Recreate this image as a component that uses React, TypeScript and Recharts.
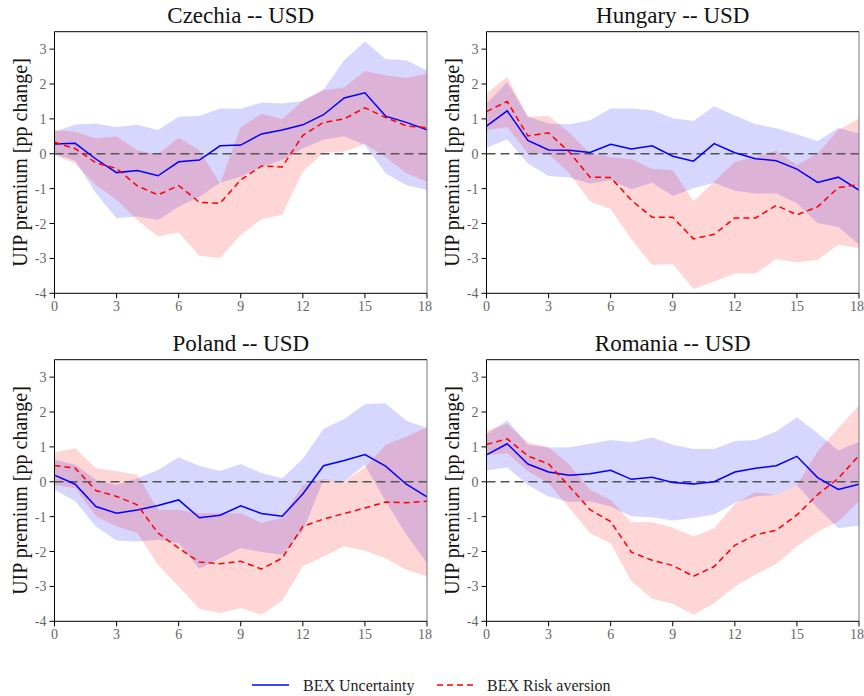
import { ComposedChart, Area, Line, XAxis, YAxis, ReferenceLine } from "recharts";

const horizons = [0, 1, 2, 3, 4, 5, 6, 7, 8, 9, 10, 11, 12, 13, 14, 15, 16, 17, 18];
const xTicks = [0, 3, 6, 9, 12, 15, 18];
const yTicks = [-4, -3, -2, -1, 0, 1, 2, 3];

// Czechia
const czUnc = [0.28, 0.3, -0.15, -0.54, -0.48, -0.63, -0.23, -0.18, 0.23, 0.25, 0.57, 0.68, 0.83, 1.12, 1.6, 1.75, 1.08, 0.9, 0.69];
const czUncLo = [0.0, -0.2, -1.13, -1.85, -1.8, -1.9, -1.52, -1.23, -0.83, -0.66, -0.37, -0.18, 0.15, 0.41, 0.5, 0.25, -0.56, -0.9, -1.04];
const czUncHi = [0.63, 0.84, 0.87, 0.77, 0.83, 0.68, 1.06, 1.08, 1.3, 1.29, 1.47, 1.44, 1.51, 1.84, 2.68, 3.22, 2.72, 2.68, 2.39];
const czRisk = [0.33, 0.15, -0.26, -0.42, -0.92, -1.18, -0.91, -1.39, -1.42, -0.75, -0.35, -0.38, 0.53, 0.9, 1.0, 1.32, 1.04, 0.8, 0.75];
const czRiskLo = [-0.04, -0.28, -0.9, -1.32, -1.9, -2.37, -2.26, -2.92, -2.99, -2.33, -1.88, -1.75, -0.51, 0.03, 0.06, 0.28, -0.09, -0.56, -0.8];
const czRiskHi = [0.68, 0.63, 0.44, 0.5, 0.1, -0.01, 0.47, 0.1, -0.85, 0.77, 1.15, 1.0, 1.53, 1.82, 1.9, 2.37, 2.25, 2.17, 2.3];

// Hungary
const huUnc = [0.79, 1.23, 0.38, 0.11, 0.1, 0.04, 0.27, 0.14, 0.23, -0.07, -0.21, 0.29, 0.03, -0.14, -0.2, -0.44, -0.82, -0.67, -1.04];
const huUncLo = [0.17, 0.41, -0.28, -0.64, -0.68, -0.85, -0.75, -1.02, -0.83, -1.21, -0.99, -0.83, -1.06, -1.14, -1.14, -1.42, -1.99, -2.09, -2.61];
const huUncHi = [1.44, 2.06, 1.06, 0.87, 0.85, 0.96, 1.3, 1.3, 1.25, 1.02, 0.94, 1.36, 1.1, 0.85, 0.73, 0.56, 0.36, 0.74, 0.58];
const huRisk = [1.21, 1.5, 0.51, 0.6, 0.05, -0.67, -0.68, -1.33, -1.82, -1.82, -2.44, -2.31, -1.84, -1.84, -1.48, -1.75, -1.52, -0.97, -0.88];
const huRiskLo = [0.68, 0.77, 0.01, 0.0, -0.56, -1.37, -1.58, -2.45, -3.19, -3.16, -3.88, -3.66, -3.43, -3.43, -3.02, -3.12, -3.04, -2.61, -2.71];
const huRiskHi = [1.73, 2.2, 1.06, 1.09, 0.6, 0.01, -0.09, -0.16, -0.43, -0.47, -1.36, -0.8, -0.23, -0.09, 0.09, -0.32, 0.01, 0.68, 1.01];

// Poland
const plUnc = [0.19, -0.07, -0.71, -0.9, -0.81, -0.68, -0.52, -1.03, -0.96, -0.69, -0.91, -0.99, -0.35, 0.46, 0.61, 0.78, 0.45, -0.07, -0.43];
const plUncLo = [-0.23, -0.56, -1.28, -1.68, -1.71, -1.66, -1.76, -2.49, -2.19, -1.9, -2.01, -2.09, -1.42, 0.06, 0.01, 0.49, -0.56, -1.52, -2.33];
const plUncHi = [0.63, 0.49, 0.06, -0.09, 0.1, 0.34, 0.7, 0.46, 0.31, 0.51, 0.25, 0.1, 0.66, 1.52, 1.8, 2.22, 2.25, 1.75, 1.54];
const plRisk = [0.47, 0.39, -0.25, -0.42, -0.66, -1.47, -1.9, -2.3, -2.35, -2.28, -2.5, -2.19, -1.28, -1.07, -0.91, -0.75, -0.58, -0.6, -0.56];
const plRiskLo = [-0.09, -0.18, -0.99, -1.28, -1.47, -2.38, -3.0, -3.64, -3.76, -3.62, -3.81, -3.41, -2.42, -2.14, -1.85, -1.98, -2.19, -2.52, -2.71];
const plRiskHi = [0.85, 0.96, 0.39, 0.31, 0.2, -0.8, -0.8, -0.9, -0.9, -0.9, -1.18, -1.04, -0.09, 0.08, 0.01, 0.41, 1.06, 1.3, 1.56];

// Romania
const roUnc = [0.77, 1.09, 0.51, 0.28, 0.19, 0.23, 0.33, 0.07, 0.13, -0.02, -0.06, 0.0, 0.28, 0.39, 0.46, 0.73, 0.12, -0.22, -0.07];
const roUncLo = [0.32, 0.41, -0.09, -0.42, -0.58, -0.56, -0.71, -0.99, -1.02, -1.11, -1.04, -0.94, -0.61, -0.42, -0.37, -0.09, -0.75, -1.33, -1.25];
const roUncHi = [1.36, 1.76, 1.06, 0.98, 0.99, 1.09, 1.2, 1.13, 1.27, 1.06, 0.94, 0.94, 1.17, 1.2, 1.44, 1.85, 1.39, 0.9, 1.15];
const roRisk = [1.07, 1.23, 0.74, 0.51, -0.13, -0.8, -1.14, -2.02, -2.25, -2.4, -2.71, -2.43, -1.82, -1.52, -1.39, -0.95, -0.37, 0.1, 0.75];
const roRiskLo = [0.77, 0.82, 0.3, -0.04, -0.75, -1.47, -1.76, -2.85, -3.35, -3.5, -3.81, -3.48, -3.0, -2.66, -2.36, -1.85, -1.44, -1.14, -0.56];
const roRiskHi = [1.46, 1.66, 1.13, 0.99, 0.49, -0.23, -0.52, -1.16, -1.16, -1.31, -1.57, -1.33, -0.64, -0.3, -0.37, -0.09, 0.87, 1.54, 2.19];

const FONT = "'Liberation Serif', 'Times New Roman', serif";

type Panel = {
  title: string;
  unc: number[];
  uncLo: number[];
  uncHi: number[];
  risk: number[];
  riskLo: number[];
  riskHi: number[];
};

const panels: Panel[] = [
  { title: "Czechia -- USD", unc: czUnc, uncLo: czUncLo, uncHi: czUncHi, risk: czRisk, riskLo: czRiskLo, riskHi: czRiskHi },
  { title: "Hungary -- USD", unc: huUnc, uncLo: huUncLo, uncHi: huUncHi, risk: huRisk, riskLo: huRiskLo, riskHi: huRiskHi },
  { title: "Poland -- USD", unc: plUnc, uncLo: plUncLo, uncHi: plUncHi, risk: plRisk, riskLo: plRiskLo, riskHi: plRiskHi },
  { title: "Romania -- USD", unc: roUnc, uncLo: roUncLo, uncHi: roUncHi, risk: roRisk, riskLo: roRiskLo, riskHi: roRiskHi },
];

function YLabel(props: any) {
  const vb = props.viewBox || {};
  const cx = 20;
  const cy = vb.y + vb.height / 2;
  return (
    <text
      x={cx}
      y={cy}
      transform={`rotate(-90 ${cx} ${cy})`}
      textAnchor="middle"
      dominantBaseline="central"
      fontFamily={FONT}
      fontSize={20}
      fill="#111"
    >
      UIP premium [pp change]
    </text>
  );
}

// title sits on the top spine (a reference line at the domain max)
function TitleLabel(props: any) {
  const vb = props.viewBox || {};
  return (
    <text x={vb.x + vb.width / 2} y={vb.y - 9} textAnchor="middle" fontFamily={FONT} fontSize={23} fill="#111">
      {props.title}
    </text>
  );
}

function IrfPanel({ p }: { p: Panel }) {
  const data = horizons.map((h, i) => ({
    h,
    uncBand: [p.uncLo[i], p.uncHi[i]],
    riskBand: [p.riskLo[i], p.riskHi[i]],
    unc: p.unc[i],
    risk: p.risk[i],
  }));
  const tick = { fill: "#666", fontSize: 14, fontFamily: FONT };
  return (
    <ComposedChart
      width={432}
      height={328}
      data={data}
      margin={{ top: 31.7, right: 5, bottom: 4.7, left: 0 }}
      style={{ fontFamily: FONT }}
    >
      <XAxis
        dataKey="h"
        type="number"
        domain={[0, 18]}
        ticks={xTicks}
        tick={tick}
        tickSize={5}
        tickMargin={3}
        height={30}
        stroke="#000"
        allowDataOverflow
      />
      <YAxis
        type="number"
        domain={[-4, 3.5]}
        ticks={yTicks}
        tick={tick}
        tickSize={5}
        tickMargin={3}
        width={54.5}
        stroke="#000"
        allowDataOverflow
        label={<YLabel />}
      />
      <Area dataKey="uncBand" type="linear" stroke="none" fill="#0000ff" fillOpacity={0.16} isAnimationActive={false} />
      <Area dataKey="riskBand" type="linear" stroke="none" fill="#ff0000" fillOpacity={0.16} isAnimationActive={false} />
      <ReferenceLine y={0} stroke="#555" strokeWidth={1.5} strokeDasharray="9 5" />
      <Line dataKey="unc" type="linear" stroke="#0000ff" strokeWidth={1.5} dot={false} isAnimationActive={false} />
      <Line
        dataKey="risk"
        type="linear"
        stroke="#ff0000"
        strokeWidth={1.5}
        strokeDasharray="6 4"
        dot={false}
        isAnimationActive={false}
      />
      <ReferenceLine x={18} stroke="#777" strokeWidth={1} />
      <ReferenceLine y={3.5} stroke="#000" strokeWidth={1} label={<TitleLabel title={p.title} />} />
    </ComposedChart>
  );
}

export default function App() {
  const pos = [
    { left: 0, top: 0 },
    { left: 432, top: 0 },
    { left: 0, top: 328 },
    { left: 432, top: 328 },
  ];
  return (
    <div
      style={{
        position: "absolute",
        left: 0,
        top: 0,
        width: 864,
        height: 696,
        background: "#fff",
        overflow: "hidden",
        fontFamily: FONT,
      }}
    >
      {panels.map((p, i) => (
        <div key={p.title} style={{ position: "absolute", left: pos[i].left, top: pos[i].top, width: 432, height: 328 }}>
          <IrfPanel p={p} />
        </div>
      ))}
      <svg width={864} height={40} style={{ position: "absolute", left: 0, top: 660 }}>
        <line x1={252} x2={289} y1={25} y2={25} stroke="#0000ff" strokeWidth={1.5} />
        <text x={303} y={30.5} fontFamily={FONT} fontSize={16} fill="#222">
          BEX Uncertainty
        </text>
        <line x1={437} x2={475} y1={25} y2={25} stroke="#ff0000" strokeWidth={1.5} strokeDasharray="6 4" />
        <text x={487} y={30.5} fontFamily={FONT} fontSize={16} fill="#222">
          BEX Risk aversion
        </text>
      </svg>
    </div>
  );
}
